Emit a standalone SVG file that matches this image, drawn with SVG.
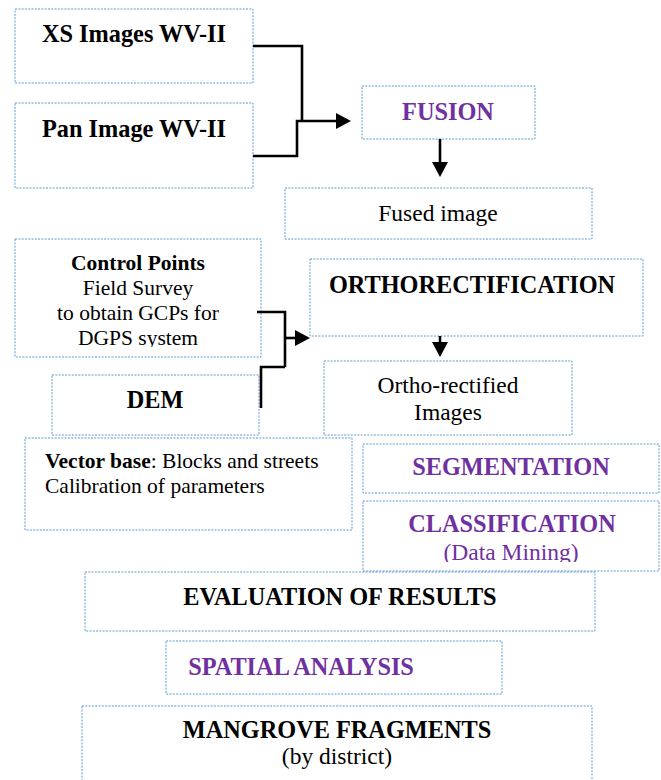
<svg xmlns="http://www.w3.org/2000/svg" width="661" height="780" viewBox="0 0 661 780" font-family="'Liberation Serif', serif">
<style>
.box{fill:#ffffff;stroke:#5b9bd5;stroke-width:1;stroke-dasharray:2 1.3}
.h{font-family:"Liberation Serif","Times New Roman",serif;font-weight:bold;font-size:24.3px;fill:#000}
.r{font-family:"Liberation Serif","Times New Roman",serif;font-size:23.5px;fill:#000}
.s{font-family:"Liberation Serif","Times New Roman",serif;font-size:21.5px;fill:#000}
.sb{font-weight:bold}
.p{fill:#7030a0}
.c{fill:none;stroke:#000;stroke-width:2.6}
.m{text-anchor:middle}
</style>
<defs>
<marker id="ah" markerUnits="userSpaceOnUse" viewBox="0 0 15 16" refX="5" refY="8" markerWidth="15" markerHeight="16" orient="auto">
<path d="M0,0 L15,8 L0,16 z" fill="#000"/>
</marker>
<clipPath id="cpclip"><rect x="15" y="239" width="246" height="108"/></clipPath>
<clipPath id="clclip"><rect x="363" y="501" width="296" height="61"/></clipPath>
</defs>
<rect width="661" height="780" fill="#ffffff"/>

<g id="xs"><rect class="box" x="15" y="9" width="238" height="74"/><text class="h m" x="134" y="42">XS Images WV-II</text></g>
<g id="pan"><rect class="box" x="15" y="103" width="238" height="85"/><text class="h m" x="134" y="137">Pan Image WV-II</text></g>
<g id="fusion"><rect class="box" x="362" y="86" width="173" height="53"/><text class="h p m" x="448" y="120">FUSION</text></g>
<g id="fused"><rect class="box" x="285" y="188" width="307" height="51"/><text class="r m" x="438" y="221">Fused image</text></g>
<g id="control"><rect class="box" x="15" y="239" width="246" height="118"/>
<g clip-path="url(#cpclip)">
<text class="s sb m" x="138" y="270">Control Points</text>
<text class="s m" x="138" y="295">Field Survey</text>
<text class="s m" x="138" y="320">to obtain GCPs for</text>
<text class="s m" x="138" y="345">DGPS system</text>
</g></g>
<g id="dem"><rect class="box" x="52" y="375" width="207" height="60"/><text class="h m" x="155" y="408">DEM</text></g>
<g id="ortho"><rect class="box" x="310" y="259" width="333" height="77"/><text class="h m" x="472" y="293">ORTHORECTIFICATION</text></g>
<g id="orthoimg"><rect class="box" x="324" y="361" width="248" height="74"/><text class="r m" x="448" y="393">Ortho-rectified</text><text class="r m" x="448" y="420">Images</text></g>
<g id="vector"><rect class="box" x="25" y="438" width="327" height="92"/>
<text class="s" x="45" y="468"><tspan class="sb">Vector base</tspan>: Blocks and streets</text>
<text class="s" x="45" y="493">Calibration of parameters</text></g>
<g id="segmentation"><rect class="box" x="363" y="444" width="296" height="49"/><text class="h p m" x="511" y="475">SEGMENTATION</text></g>
<g id="classification"><rect class="box" x="363" y="501" width="296" height="70"/>
<g clip-path="url(#clclip)"><text class="h p m" x="512" y="532">CLASSIFICATION</text><text class="r p m" x="511" y="560">(Data Mining)</text></g></g>
<g id="evaluation"><rect class="box" x="85" y="572" width="510" height="59"/><text class="h m" x="340" y="605">EVALUATION OF RESULTS</text></g>
<g id="spatial"><rect class="box" x="166" y="641" width="336" height="53"/><text class="h p m" x="301" y="675">SPATIAL ANALYSIS</text></g>
<g id="mangrove"><rect class="box" x="82" y="706" width="510" height="100"/><text class="h m" x="337" y="738">MANGROVE FRAGMENTS</text><text class="r m" x="337" y="764">(by district)</text></g>

<g id="connectors">
<path class="c" d="M253,46 H302 V121"/>
<path class="c" d="M253,156 H297 V121 H341" marker-end="url(#ah)"/>
<path class="c" d="M440,139 V167" marker-end="url(#ah)"/>
<path class="c" d="M257,312 H285 V367"/>
<path class="c" d="M261,408 V367 H285"/>
<path class="c" d="M285,338 H300" marker-end="url(#ah)"/>
<path class="c" d="M440,336 V347" marker-end="url(#ah)"/>
</g>
</svg>
